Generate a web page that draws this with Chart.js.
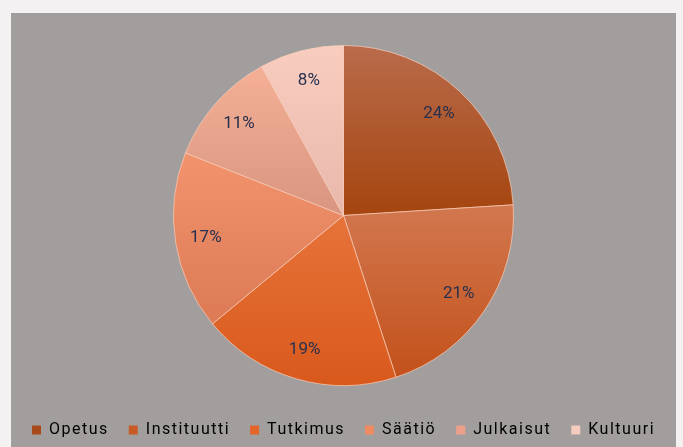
<!DOCTYPE html>
<html>
<head>
<meta charset="utf-8">
<script src="https://cdn.jsdelivr.net/npm/chart.js@4"></script>
<style>
  html, body { margin: 0; padding: 0; background: #f3f1f2; }
  #panel { position: absolute; left: 11px; top: 13px; width: 665px; height: 434px; background: #a29e9d; }
</style>
</head>
<body>
<div id="panel"><canvas id="pieChart" width="665" height="434"></canvas></div>
<script>
// chart data
const categories = ["Opetus", "Instituutti", "Tutkimus", "Säätiö", "Julkaisut", "Kultuuri"];
const shares = [24, 21, 19, 17, 11, 8];

// gradient stops per slice (position over pie height, colour)
const sliceShades = [
  [[0, "#b96b4b"], [0.5, "#a5450f"], [1, "#9e3e08"]],
  [[0, "#e08c66"], [0.5, "#d1754c"], [1, "#c24f18"]],
  [[0, "#f08a58"], [0.5, "#e6733a"], [1, "#d9591c"]],
  [[0, "#f79d7c"], [0.3, "#f3946f"], [0.8, "#dc7b56"], [1, "#d6744f"]],
  [[0, "#f4b39c"], [0.1, "#f2ad94"], [0.5, "#d99580"], [1, "#d08a74"]],
  [[0, "#f8cdc0"], [0.5, "#e8b8ab"], [1, "#e0aea0"]]
];
const legendSwatches = ["#a84a1a", "#c85a25", "#e3652a", "#f08a62", "#eca089", "#f5cbbd"];

const fillFor = (context) => {
  const chart = context.chart;
  const area = chart.chartArea;
  const stops = sliceShades[context.dataIndex];
  if (!area) return stops[1][1];
  const g = chart.ctx.createLinearGradient(0, area.top, 0, area.bottom);
  stops.forEach(([p, c]) => g.addColorStop(p, c));
  return g;
};

// spaced-out legend text on one row, extra room above the legend, legend pushed lower
const legendTweak = {
  id: "legendTweak",
  beforeInit(chart) {
    const legend = chart.legend;
    const fit = legend.fit;
    const draw = legend.draw;
    legend.fit = function () {
      chart.ctx.letterSpacing = "1.5px";
      const w = this.maxWidth;
      this.maxWidth = w + 60; // keep all items on a single row
      fit.call(this);
      this.maxWidth = w;
      this.width = Math.min(this.width, w);
      this.height += 15;
    };
    legend.draw = function () {
      const c = chart.ctx;
      const l = this.left, r = this.right;
      this.left = l - 40; // widen box symmetrically so the row does not wrap
      this.right = r + 40;
      c.save();
      c.letterSpacing = "1.5px";
      c.translate(0, 16);
      draw.call(this);
      c.restore();
      this.left = l;
      this.right = r;
    };
  }
};

// draws percentage labels inside each slice
const sliceLabels = {
  id: "sliceLabels",
  afterDatasetsDraw(chart) {
    const { ctx } = chart;
    const meta = chart.getDatasetMeta(0);
    ctx.save();
    ctx.letterSpacing = "0px";
    ctx.font = "17px Roboto";
    ctx.fillStyle = "#27304e";
    ctx.textAlign = "center";
    ctx.textBaseline = "middle";
    meta.data.forEach((arc, i) => {
      const mid = (arc.startAngle + arc.endAngle) / 2;
      const r = arc.outerRadius * 0.82;
      ctx.fillText(shares[i] + "%", arc.x + Math.cos(mid) * r, arc.y + Math.sin(mid) * r);
    });
    ctx.restore();
  }
};

const ctx = document.getElementById("pieChart").getContext("2d");
new Chart(ctx, {
  type: "pie",
  data: {
    labels: categories,
    datasets: [{
      data: shares,
      backgroundColor: fillFor,
      borderColor: "rgba(250, 205, 185, 0.7)",
      borderWidth: 1
    }]
  },
  options: {
    responsive: false,
    animation: false,
    layout: { padding: { top: 32, bottom: 0 } },
    plugins: {
      tooltip: { enabled: false },
      legend: {
        position: "bottom",
        labels: {
          boxWidth: 9,
          boxHeight: 9,
          padding: 20,
          color: "#45407e",
          font: { family: "Roboto", size: 16 },
          generateLabels() {
            return categories.map((c, i) => ({
              text: c,
              fillStyle: legendSwatches[i],
              strokeStyle: legendSwatches[i],
              lineWidth: 0,
              index: i
            }));
          }
        }
      }
    }
  },
  plugins: [legendTweak, sliceLabels]
});
</script>
</body>
</html>
